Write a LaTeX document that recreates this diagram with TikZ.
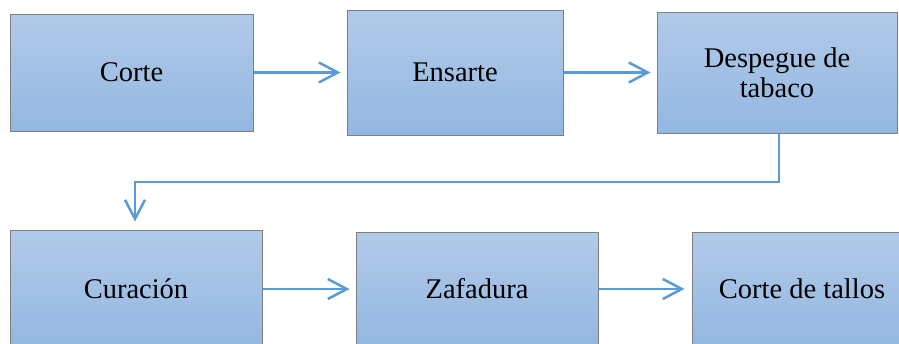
\documentclass[tikz,border=0pt]{standalone}
\usepackage{fontspec}
\setmainfont{Liberation Serif}
\usetikzlibrary{arrows.meta}
\definecolor{arrowblue}{HTML}{5B9BD5}
\definecolor{boxtop}{HTML}{B1CAE9}
\definecolor{boxbot}{HTML}{93B7E1}
\definecolor{boxedge}{HTML}{7F7F7F}
\tikzset{
  stepbox/.style={draw=boxedge, line width=1pt, top color=boxtop, bottom color=boxbot,
    rectangle, inner sep=0pt, align=center, text=black,
    font=\fontsize{28.5}{29.5}\selectfont},
  flow/.style={draw=arrowblue, line width=2.5pt,
    -{Straight Barb[length=19pt, width=20pt, line width=2.5pt]}}
}
\begin{document}
\begin{tikzpicture}[x=1pt,y=-1pt]
\useasboundingbox (0,0) rectangle (899,343);
\clip (0,0) rectangle (899,343);
% top row
\node[stepbox, minimum width=243pt, minimum height=117pt] (corte) at (131.5,72.5) {Corte};
\node[stepbox, minimum width=216pt, minimum height=125pt] (ensarte) at (455,72.5) {Ensarte};
\node[stepbox, minimum width=240pt, minimum height=121pt] (despegue) at (777,72.5) {Despegue de\\tabaco};
% bottom row
\node[stepbox, minimum width=252pt, minimum height=118pt] (curacion) at (136,289) {Curación};
\node[stepbox, minimum width=242pt, minimum height=114pt] (zafadura) at (477,289) {Zafadura};
\node[stepbox, minimum width=220pt, minimum height=114pt] (tallos) at (802,289) {Corte de tallos};
% connectors
\draw[flow] (corte.east) -- ([xshift=-6pt]ensarte.west);
\draw[flow] (ensarte.east) -- ([xshift=-6pt]despegue.west);
\coordinate (bend1) at (779,182);
\coordinate (bend2) at (135,182);
\draw[flow] (despegue.south -| bend1) -- (bend1) -- (bend2) -- ([yshift=8pt]curacion.north -| bend2);
\draw[flow] (curacion.east) -- ([xshift=-6pt]zafadura.west);
\draw[flow] (zafadura.east) -- ([xshift=-7pt]tallos.west);
\end{tikzpicture}
\end{document}
